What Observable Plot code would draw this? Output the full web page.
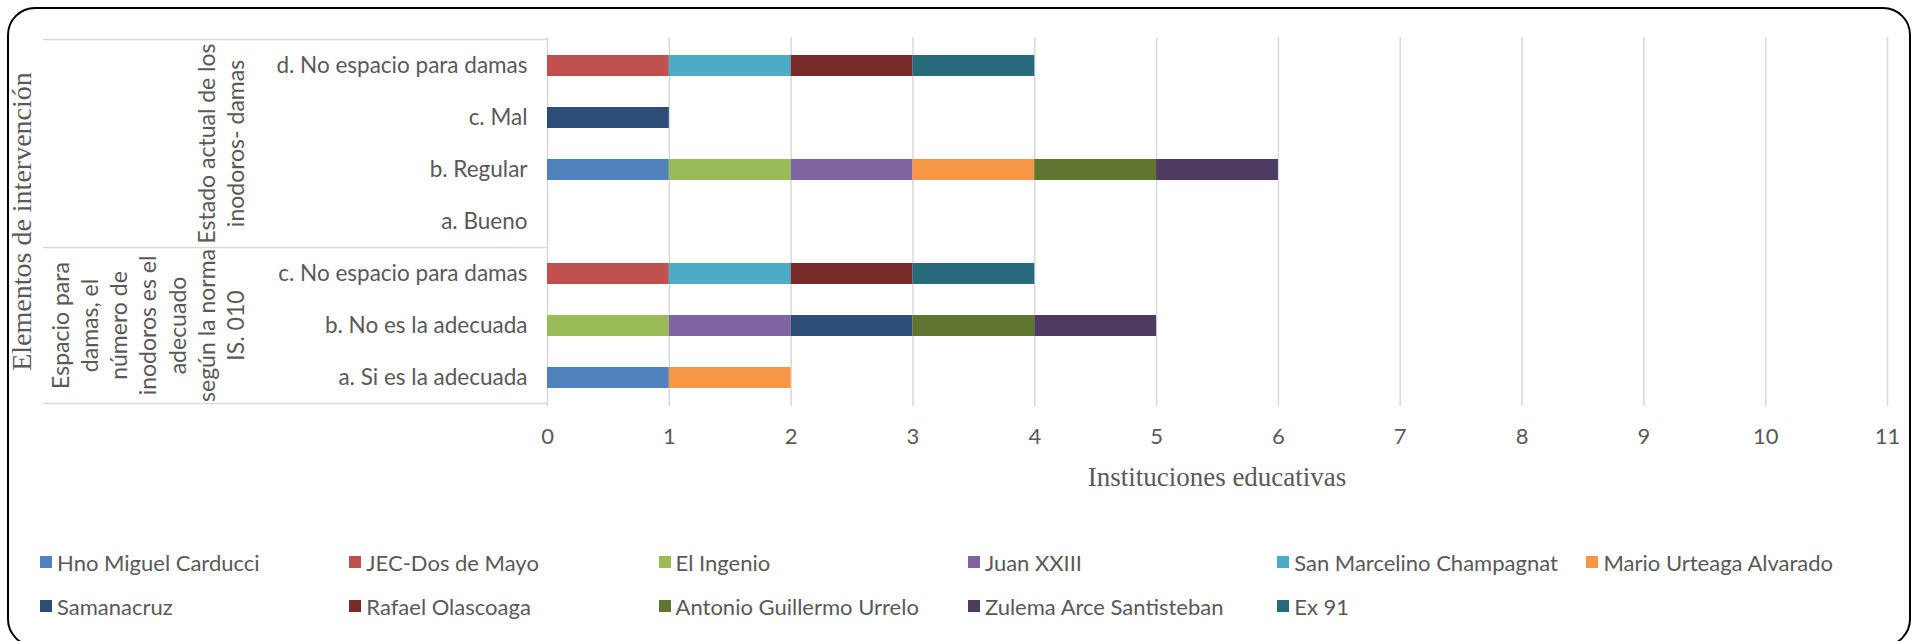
<!DOCTYPE html>
<html>
<head>
<meta charset="utf-8">
<script src="https://cdn.jsdelivr.net/npm/d3@7"></script>
<script src="https://cdn.jsdelivr.net/npm/@observablehq/plot@0.6"></script>
<style>
  html, body { margin: 0; padding: 0; background: #fff; }
  #page { position: relative; width: 1923px; height: 641px; overflow: hidden; background: #fff; }
  #frame { position: absolute; left: 7px; top: 7px; width: 1904px; height: 640px; border: 2px solid #000; border-radius: 28px; box-sizing: border-box; }
  #chart { position: absolute; left: 0; top: 0; }
  #legend { position: absolute; left: 40px; top: 549px; display: grid; grid-template-columns: repeat(6, 309.3px); grid-auto-rows: 44px; font-family: Lato, "Open Sans", sans-serif; font-size: 22px; color: #595959; }
  .item { display: flex; align-items: center; height: 26px; white-space: nowrap; }
  .sw { width: 12px; height: 12px; margin-right: 5px; flex: none; }
</style>
</head>
<body>
<div id="page">
  <div id="frame"></div>
  <div id="chart"></div>
  <div id="legend"></div>
</div>
<script>
// Categories (top to bottom) and their groups
const categories = [
  "d. No espacio para damas",
  "c. Mal",
  "b. Regular",
  "a. Bueno",
  "c. No espacio para damas ",
  "b. No es la adecuada",
  "a. Si es la adecuada"
];
const groupNames = [
  ["Estado actual de los", "inodoros- damas"],
  ["Espacio para", "damas, el", "número de", "inodoros es el", "adecuado", "según la norma", "IS. 010"]
];
const groupFirstCategory = [0, 4];
const groupLastCategory = [3, 6];

// Series (institutions)
const seriesNames = [
  "Hno Miguel Carducci", "JEC-Dos de Mayo", "El Ingenio", "Juan XXIII",
  "San Marcelino Champagnat", "Mario Urteaga Alvarado", "Samanacruz",
  "Rafael Olascoaga", "Antonio Guillermo Urrelo", "Zulema Arce Santisteban", "Ex 91"
];
const seriesColors = [
  "#4f81bd", "#c0504d", "#9bbb59", "#8064a2", "#4bacc6", "#f79646",
  "#2c4d75", "#772c2a", "#5f7530", "#4d3b62", "#276a7c"
];
// values per category, in the order of `categories`
const hnoMiguelCarducci      = [0, 0, 1, 0, 0, 0, 1];
const jecDosDeMayo           = [1, 0, 0, 0, 1, 0, 0];
const elIngenio              = [0, 0, 1, 0, 0, 1, 0];
const juanXXIII              = [0, 0, 1, 0, 0, 1, 0];
const sanMarcelino           = [1, 0, 0, 0, 1, 0, 0];
const marioUrteaga           = [0, 0, 1, 0, 0, 0, 1];
const samanacruz             = [0, 1, 0, 0, 0, 1, 0];
const rafaelOlascoaga        = [1, 0, 0, 0, 1, 0, 0];
const antonioGuillermo       = [0, 0, 1, 0, 0, 1, 0];
const zulemaArce             = [0, 0, 1, 0, 0, 1, 0];
const ex91                   = [1, 0, 0, 0, 1, 0, 0];
const seriesValues = [hnoMiguelCarducci, jecDosDeMayo, elIngenio, juanXXIII, sanMarcelino,
  marioUrteaga, samanacruz, rafaelOlascoaga, antonioGuillermo, zulemaArce, ex91];

const xTicks = [0,1,2,3,4,5,6,7,8,9,10,11];
const xLabel = "Instituciones educativas";
const yLabel = "Elementos de intervención";

const table = [];
seriesNames.forEach((s, i) => {
  categories.forEach((c, j) => {
    if (seriesValues[i][j] > 0) table.push({series: s, category: c, value: seriesValues[i][j]});
  });
});

const sans = "Lato, 'Open Sans', sans-serif";
const serif = "'Liberation Serif', 'DejaVu Serif', serif";

const plot = Plot.plot({
  width: 1923,
  height: 500,
  marginLeft: 547,
  marginRight: 36,
  marginTop: 37,
  marginBottom: 94,
  style: {fontFamily: sans, fontSize: "22px", color: "#595959", background: "transparent", overflow: "visible"},
  x: {domain: [0, 11]},
  y: {domain: categories, paddingInner: 0.6, paddingOuter: 0.3},
  color: {domain: seriesNames, range: seriesColors},
  marks: [
    Plot.ruleX(xTicks, {x: d => d, stroke: "#d9d9d9", strokeWidth: 1.5}),
    Plot.barX(table, Plot.stackX({x: "value", y: "category", fill: "series", order: null})),
    Plot.axisX(xTicks, {tickSize: 0, tickPadding: 22, label: null, fill: "#595959", fontSize: 22,
      tickFormat: d3.format("d")}),
    Plot.axisY({tickSize: 0, tickPadding: 20, label: null, fill: "#595959", fontSize: 22.5,
      tickFormat: d => d.trim()})
  ]
});
document.getElementById("chart").appendChild(plot);

// Multi-level category table lines, group labels, and axis titles
const svg = d3.select(plot);
const ys = plot.scale("y");
const xs = plot.scale("x");
const step = ys.step, bw = ys.bandwidth;
const bandTop = c => ys.apply(c) + bw / 2 - step / 2;
const bandBottom = c => ys.apply(c) + bw / 2 + step / 2;
const tableLeft = 43, tableRight = xs.apply(0);
const deco = svg.append("g");
const lineYs = [bandTop(categories[0])];
groupLastCategory.forEach(k => lineYs.push(bandBottom(categories[k])));
lineYs.forEach(y => {
  deco.append("line").attr("x1", tableLeft).attr("x2", tableRight).attr("y1", y).attr("y2", y)
    .attr("stroke", "#d9d9d9").attr("stroke-width", 1.5);
});

const lastLineX = 236, lineH = 29.2;
groupNames.forEach((lines, g) => {
  const yc = (bandTop(categories[groupFirstCategory[g]]) + bandBottom(categories[groupLastCategory[g]])) / 2;
  const t = deco.append("text")
    .attr("transform", `translate(${lastLineX},${yc}) rotate(-90)`)
    .attr("text-anchor", "middle")
    .attr("font-family", sans).attr("font-size", 23).attr("fill", "#595959");
  lines.forEach((ln, i) => {
    t.append("tspan").attr("x", 0).attr("y", -(lines.length - 1 - i) * lineH).attr("dy", "0.35em").text(ln);
  });
});

deco.append("text")
  .attr("transform", `translate(21,${(37 + 406) / 2}) rotate(-90)`)
  .attr("text-anchor", "middle").attr("dy", "0.35em")
  .attr("font-family", serif).attr("font-size", 28).attr("fill", "#595959")
  .text(yLabel);

deco.append("text")
  .attr("x", (xs.apply(0) + xs.apply(11)) / 2).attr("y", 477)
  .attr("text-anchor", "middle").attr("dy", "0.35em")
  .attr("font-family", serif).attr("font-size", 27).attr("fill", "#595959")
  .text(xLabel);

// Legend
const legend = d3.select("#legend");
seriesNames.forEach((name, i) => {
  const it = legend.append("div").attr("class", "item");
  it.append("div").attr("class", "sw").style("background", seriesColors[i]);
  it.append("span").text(name);
});
</script>
</body>
</html>
